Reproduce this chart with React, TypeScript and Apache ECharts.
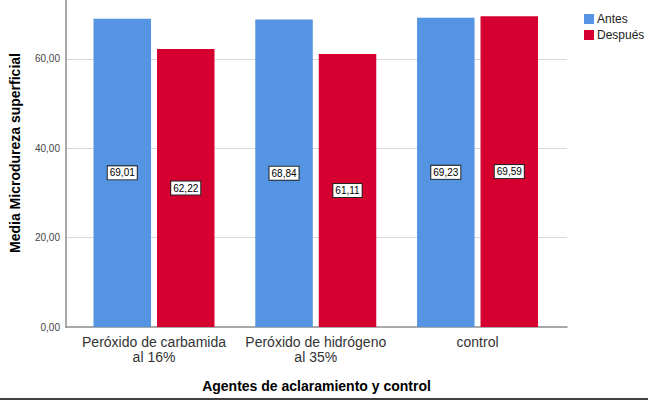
import React, { useEffect, useRef } from "react";
import * as echarts from "echarts";

const categories = ["Peróxido de carbamida\nal 16%", "Peróxido de hidrógeno\nal 35%", "control"];
const antes = [69.01, 68.84, 69.23];
const despues = [62.22, 61.11, 69.59];
const seriesNames = ["Antes", "Después"];
const yTicks = [0, 20, 40, 60];

const FONT = "'Liberation Sans', Arial, sans-serif";

export default function App() {
  const ref = useRef<HTMLDivElement>(null);
  useEffect(() => {
    if (!ref.current) return;
    const chart = echarts.init(ref.current, null, { renderer: "svg" });
    const fmt = (v: number) => v.toFixed(2).replace(".", ",");
    const label = {
      show: true,
      position: "inside",
      formatter: (p: any) => fmt(p.value[1]),
      color: "#000",
      fontSize: 10,
      fontFamily: FONT,
      backgroundColor: "#fff",
      borderColor: "#222",
      borderWidth: 1,
      padding: [1, 2, 1, 2],
      lineHeight: 11,
    };
    chart.setOption({
      animation: false,
      textStyle: { fontFamily: FONT },
      grid: { left: 66, right: 83, top: 0, bottom: 74, containLabel: false },
      legend: {
        orient: "vertical",
        left: 579,
        top: 8,
        itemWidth: 10,
        itemHeight: 10,
        itemGap: 4,
        icon: "rect",
        textStyle: { fontSize: 12, color: "#222", fontFamily: FONT, padding: [0, 0, 0, -2] },
        data: seriesNames,
      },
      xAxis: {
        type: "value",
        min: -0.544,
        max: 2.553,
        axisLine: { show: true, onZero: false, lineStyle: { color: "#8c8c8c", width: 1.5 } },
        axisTick: { show: false },
        splitLine: { show: false },
        axisLabel: {
          customValues: [0, 1, 2],
          formatter: (v: number) => categories[Math.round(v)] ?? "",
          fontSize: 14,
          lineHeight: 15,
          color: "#333",
          margin: 7,
          fontFamily: FONT,
        },
        name: "Agentes de aclaramiento y control",
        nameLocation: "middle",
        nameGap: 52,
        nameTextStyle: { fontSize: 14, fontWeight: "bold", color: "#000", fontFamily: FONT },
      },
      yAxis: {
        type: "value",
        min: 0,
        max: 73.2,
        interval: 20,
        axisLine: { show: true, onZero: false, lineStyle: { color: "#8c8c8c", width: 1.5 } },
        axisTick: { show: false },
        splitLine: { show: true, showMaxLine: false, showMinLine: false, lineStyle: { color: "#d9d9d9", width: 1 } },
        axisLabel: {
          customValues: yTicks,
          formatter: (v: number) => fmt(v),
          fontSize: 10,
          color: "#444",
          margin: 6,
          fontFamily: FONT,
        },
      },
      series: [
        {
          name: seriesNames[0],
          type: "bar",
          barWidth: 57.5,
          barGap: "10.4%",
          itemStyle: { color: "#5594e3" },
          label,
          data: antes.map((v, i) => [i, v]),
        },
        {
          name: seriesNames[1],
          type: "bar",
          barWidth: 57.5,
          barGap: "10.4%",
          itemStyle: { color: "#d5002f" },
          label,
          data: despues.map((v, i) => [i, v]),
        },
      ],
      graphic: [
        {
          type: "text",
          x: 15,
          y: 153,
          rotation: Math.PI / 2,
          style: {
            text: "Media Microdureza superficial",
            fontSize: 14,
            fontWeight: "bold",
            fontFamily: FONT,
            fill: "#000",
            align: "center",
            verticalAlign: "middle",
          },
        },
        {
          type: "line",
          shape: { x1: 0, y1: 399, x2: 648, y2: 399 },
          style: { stroke: "#000", lineWidth: 1.5 },
        },
      ],
    });
    return () => chart.dispose();
  }, []);
  return (
    <div
      ref={ref}
      style={{ position: "fixed", left: 0, top: 0, width: 650, height: 401, background: "#fff" }}
    />
  );
}
